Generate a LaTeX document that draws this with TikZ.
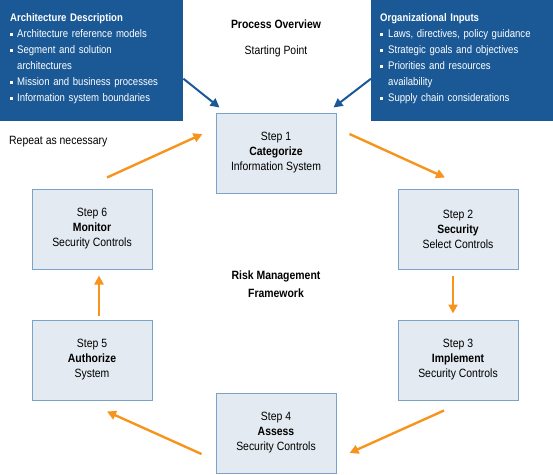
\documentclass[tikz,border=0pt]{standalone}
\usepackage{fontspec}
\setmainfont{Liberation Sans}[FakeStretch=0.87]
\usepackage{array}
\usetikzlibrary{arrows.meta}

\definecolor{rmfblue}{RGB}{27,89,150}
\definecolor{rmforange}{RGB}{247,148,30}
\definecolor{boxfill}{RGB}{227,234,241}
\definecolor{boxline}{RGB}{122,163,202}

\newcommand{\sqbullet}{\rule[0.25ex]{3.2pt}{3.2pt}}

\begin{document}
\begin{tikzpicture}[x=1pt,y=-1pt,
    stepbox/.style={shape=rectangle,draw=boxline,fill=boxfill,line width=1pt,
      minimum width=120pt,minimum height=80pt,align=center,
      font=\fontsize{12}{15}\selectfont},
    infobox/.style={shape=rectangle,fill=rmfblue,text=white,anchor=north west,
      minimum height=121pt,inner ysep=0pt,
      font=\fontsize{11}{16}\selectfont},
    looparrow/.style={draw=rmforange,line width=2.4pt,
      -{Triangle[length=9pt,width=9pt]}},
    feedarrow/.style={draw=rmfblue,line width=2pt,
      -{Triangle[length=9pt,width=9pt]}}]

    \useasboundingbox (0,0) rectangle (553,474);

    % inputs
    \node[infobox,minimum width=183pt,text width=163pt,inner xsep=10pt] (archdesc) at (0,0) {%
      \begin{tabular}{@{}p{7pt}@{}l@{}}
        \multicolumn{2}{@{}l@{}}{\textbf{Architecture Description}}\\
        \sqbullet & Architecture reference models\\
        \sqbullet & Segment and solution\\
                  & architectures\\
        \sqbullet & Mission and business processes\\
        \sqbullet & Information system boundaries\rule[-10pt]{0pt}{10pt}
      \end{tabular}};
    \node[infobox,minimum width=182pt,text width=164pt,inner xsep=9pt] (orginputs) at (371,0) {%
      \begin{tabular}{@{}p{8pt}@{}l@{}}
        \multicolumn{2}{@{}l@{}}{\textbf{Organizational Inputs}}\\
        \sqbullet & Laws, directives, policy guidance\\
        \sqbullet & Strategic goals and objectives\\
        \sqbullet & Priorities and resources\\
                  & availability\\
        \sqbullet & Supply chain considerations\rule[-10pt]{0pt}{10pt}
      \end{tabular}};

    \node[font=\fontsize{12}{15}\selectfont] (overview) at (276,24) {\textbf{Process Overview}};
    \node[font=\fontsize{12}{15}\selectfont] (startpt) at (276,51) {Starting Point};
    \node[font=\fontsize{12}{15}\selectfont,anchor=west,inner sep=0pt] (repeat) at (9,142) {Repeat as necessary};
    \node[font=\fontsize{12}{18}\selectfont,align=center] (rmf) at (276,284)
      {\textbf{Risk Management}\\\textbf{Framework}};

    % steps
    \node[stepbox] (step1) at (276,153) {Step 1\\\textbf{Categorize}\\Information System};
    \node[stepbox] (step2) at (458,229) {Step 2\\\textbf{Security}\\Select Controls};
    \node[stepbox] (step3) at (458,360) {Step 3\\\textbf{Implement}\\Security Controls};
    \node[stepbox] (step4) at (276,433) {Step 4\\\textbf{Assess}\\Security Controls};
    \node[stepbox] (step5) at (92,360) {Step 5\\\textbf{Authorize}\\System};
    \node[stepbox] (step6) at (92,229) {Step 6\\\textbf{Monitor}\\Security Controls};

    \draw[feedarrow] ([yshift=-18pt]archdesc.east) -- ([xshift=4pt,yshift=5pt]step1.north west);
    \draw[feedarrow] ([yshift=-18pt]orginputs.west) -- ([xshift=-3pt,yshift=5pt]step1.north east);

    \draw[looparrow] ([xshift=13pt,yshift=19pt]step1.east) -- ([xshift=-13pt,yshift=11pt]step2.north);
    \draw[looparrow] ([xshift=-5pt,yshift=-6pt]step2.south) -- ([xshift=-5pt,yshift=6pt]step3.north);
    \draw[looparrow] ([xshift=-14pt,yshift=-10pt]step3.south) -- ([xshift=13pt,yshift=-20pt]step4.east);
    \draw[looparrow] ([xshift=-14pt,yshift=-21pt]step4.west) -- ([xshift=15pt,yshift=-11pt]step5.south);
    \draw[looparrow] ([xshift=7pt,yshift=4pt]step5.north) -- ([xshift=7pt,yshift=-6pt]step6.south);
    \draw[looparrow] ([xshift=15pt,yshift=11pt]step6.north) -- ([xshift=-13pt,yshift=19pt]step1.west);

\end{tikzpicture}
\end{document}
